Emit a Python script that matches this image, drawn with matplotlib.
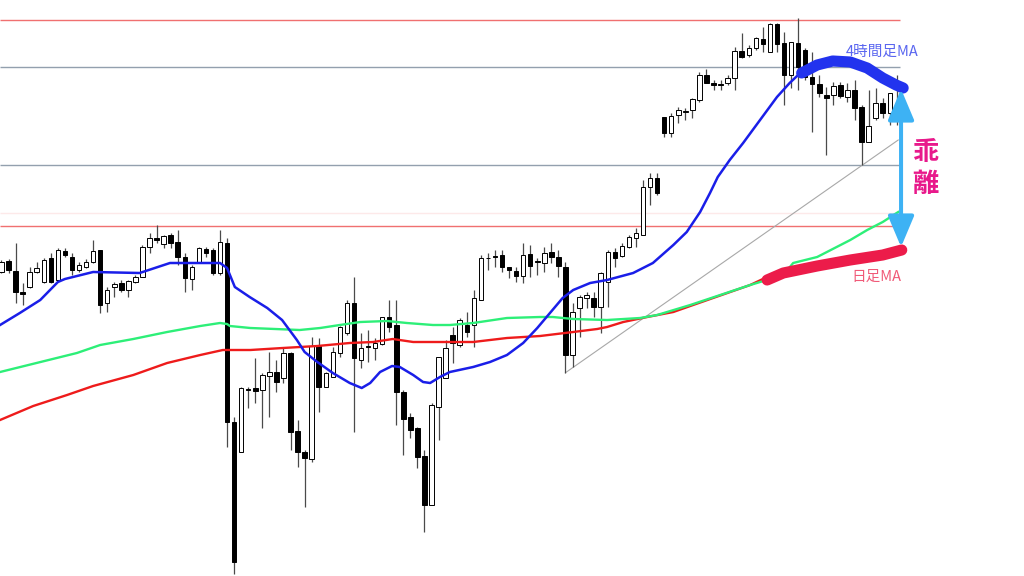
import matplotlib.pyplot as plt
import numpy as np

# 4h candles, price in chart units
opens = [304.3, 315.3, 305.3, 284.3, 289.3, 304, 294.3, 317.7, 296, 325.3,
         319.3, 306, 309.3, 314.3, 326, 272.7, 288.7, 292.7, 286, 294.3,
         299.3, 329.3, 337.7, 332, 341, 334.3, 319.3, 296.7, 312.7, 326.7,
         326, 302.7, 332.7, 154.3, 124.3, 187, 187.7, 186, 200, 204.3,
         197.7, 222.7, 145.3, 123.7, 116.7, 230, 189.3, 199.3, 223.3, 242.7,
         273.3, 216, 229.3, 227.7, 232, 259.3, 251, 184.3, 159.3, 147.7,
         120, 71, 169.3, 197.7, 241, 231, 251, 251, 276, 317.7,
         320, 321, 308.7, 305.3, 300, 322, 314.3, 312.7, 324.3, 319.3,
         309.3, 221, 267.7, 277.7, 277.7, 269.3, 294.3, 324.3, 320, 329.3,
         337.7, 341, 389.3, 397.7, 458.7, 443.3, 461, 464.3, 466, 476,
         501, 493.3, 492, 493.3, 497.7, 525.3, 521, 527.7, 536.7, 524.3,
         552, 532.7, 501, 533.3, 526, 499.3, 492, 481, 481, 491,
         479.3, 486, 469.3, 434.3, 457.7, 472.7, 462.7, 462.7]
highs = [316, 317, 332.7, 293, 309.3, 314.3, 317.7, 322.7, 327.7, 327.7,
         322.7, 314.3, 316.7, 336, 326, 289.3, 294.3, 296, 296, 301,
         331, 343.3, 351, 341, 342.7, 346, 322.7, 311, 329.3, 329.3,
         327.7, 346, 337.7, 159.3, 189.3, 189.3, 217.7, 202.7, 224.3, 216,
         229.3, 224.3, 156, 126, 239.3, 237.7, 204.3, 229.3, 250, 276,
         298.7, 242.7, 246, 237.7, 259.3, 276, 276, 186, 162.7, 149.3,
         126, 173.3, 219.3, 236, 249.3, 257.7, 264.3, 286, 321, 322.7,
         326, 326, 309.3, 309.3, 332.7, 331, 317.7, 329.3, 332.7, 326,
         314.3, 272.7, 281, 284.3, 284.3, 304.3, 326, 327.7, 332.7, 341,
         347.7, 396, 402.7, 402.7, 459.3, 462.7, 469.3, 467.7, 477.7, 504.3,
         506.7, 496, 496, 501, 529.3, 542.7, 531, 539.3, 549.3, 552.7,
         552.7, 544.3, 534.3, 558, 527.7, 524.3, 501, 489.3, 494.3, 494.3,
         492.7, 496, 471, 486, 487.7, 477.7, 482.7, 501]
lows = [303, 303, 272.7, 271, 287.7, 303, 292.7, 292.7, 294.3, 319.3,
        301, 304.3, 307.7, 312.7, 262.7, 264.3, 279.3, 284.3, 279.3, 292.7,
        299.3, 322.7, 332.7, 327.7, 327.7, 311, 284.3, 286, 312.7, 319.3,
        301, 301, 129.3, 2, 124.3, 167.7, 172.7, 147.7, 159.3, 184.3,
        192.7, 126, 109.3, 69.3, 114.3, 164.3, 189.3, 199.3, 219.3, 241,
        144.3, 207.7, 214.3, 216, 231, 244.3, 151, 121, 137.7, 107.7,
        44.3, 71, 136, 197.7, 212.7, 229.3, 239.3, 229.3, 276, 306,
        309.3, 304.3, 297.7, 294.3, 292.7, 299.3, 301, 304.3, 312.7, 299.3,
        203.3, 209.3, 239.3, 267.7, 259.3, 242.7, 269.3, 309.3, 319.3, 327.7,
        329.3, 341, 371, 381, 439.3, 439.3, 452.7, 456, 457.7, 474.3,
        492.7, 486, 486, 491, 486, 517.7, 519.3, 526, 524.3, 524.3,
        524.3, 471, 487.7, 486, 496, 444.3, 479.3, 421, 471, 477.7,
        474.3, 456, 411, 434.3, 456, 457.7, 451, 451]
closes = [314.3, 306, 284.3, 282, 304.3, 308.3, 316, 294.3, 326, 321,
          306, 311, 314.3, 325.3, 271, 286, 292, 286, 295.3, 299.3,
          329.3, 337.7, 336, 340, 332.7, 319.3, 297.7, 309.3, 327.7, 322.7,
          302.7, 334.3, 154.3, 14.3, 187.7, 186.3, 185.3, 201, 204.3, 194.3,
          222.7, 144.3, 124.3, 117.7, 230, 189.3, 202.7, 224.3, 248.7, 272.7,
          217.7, 227.7, 229, 232.7, 258.7, 249.3, 184.3, 156.7, 146, 119.3,
          71, 171, 218.7, 227.7, 232.7, 256, 244.3, 277.7, 317.7, 317.3,
          319, 309.3, 306, 300, 321, 310, 314, 323.3, 319.3, 310,
          221, 264.3, 279.3, 281, 269.3, 302.7, 324.3, 317.7, 330, 338.7,
          342.7, 389.3, 397.7, 382.7, 443.3, 460, 466, 464.7, 476.7, 501,
          493.3, 491, 491.3, 497.7, 525.3, 519.3, 527.7, 537.7, 532, 552,
          532, 501, 533.7, 509.3, 499.3, 492, 482.7, 477.7, 490, 480,
          486, 467.7, 434.3, 450, 472.7, 462.7, 482.7, 456]

# moving averages (bar position, value)
ma4h_x = [-0.2, 2.6, 5.5, 8.0, 9.0, 13.0, 19.6, 23.9, 31.0, 32.0,
          33.1, 35.2, 37.7, 39.8, 41.9, 43.0, 44.8, 47.0, 49.4, 51.1,
          52.3, 53.7, 55.4, 56.5, 58.4, 59.8, 60.8, 62.2, 63.6, 66.9,
          69.3, 71.7, 74.0, 76.0, 77.8, 79.6, 81.1, 83.5, 85.9, 89.6,
          92.4, 95.3, 97.2, 99.1, 100.5, 101.6, 103.3, 105.2, 107.6, 110.0,
          111.8, 113.3, 115.7, 117.9, 120.4, 122.8, 125.0, 127.4]
ma4h_y = [251, 263, 276, 294, 297, 304, 303, 313, 313, 308,
          289, 279, 268, 256, 236, 224, 214, 203, 193, 188,
          193, 204, 210, 209, 201, 194, 193, 199, 204, 209,
          214, 221, 233, 248, 263, 278, 286, 293, 296, 303,
          313, 331, 344, 364, 383, 399, 416, 433, 456, 479,
          493, 503, 511, 515, 514, 508, 498, 488]
mid_x = [-0.2, 10.7, 14.0, 18.7, 23.5, 28.2, 31.0, 32.0, 32.4, 35.3,
         42.3, 45.2, 48.0, 50.9, 54.7, 57.5, 61.2, 63.6, 66.9, 71.7,
         76.4, 78.2, 81.1, 85.9, 90.6, 93.0, 97.7, 106.2, 110.9, 112.3,
         115.7, 120.4, 122.8, 125.0, 127.2]
mid_y = [204, 223, 231, 237, 244, 250, 253, 252, 250, 248,
         246, 248, 251, 254, 255, 253, 251, 251, 253, 258,
         259, 259, 257, 256, 258, 261, 271, 291, 301, 313,
         319, 336, 346, 354, 364]
daily_x = [-0.2, 4.5, 9.3, 13.0, 18.7, 23.5, 28.2, 31.4, 35.3, 39.9,
           44.8, 49.4, 52.7, 55.5, 58.4, 61.2, 63.6, 66.9, 71.7, 76.4,
           81.1, 84.5, 85.9, 88.2, 91.6, 95.3, 97.7, 106.2, 108.0]
daily_y = [156, 170, 181, 190, 201, 213, 221, 226, 226, 228,
           230, 233, 234, 237, 234, 234, 234, 234, 238, 240,
           244, 247, 249, 254, 259, 264, 270, 291, 297]

# hand-drawn marker strokes
mark4h_x = [113.5, 115.7, 117.9, 120.4, 122.8, 125.0, 126.9, 127.9]
mark4h_y = [503, 511, 515, 514, 508, 498, 491, 488]
markd_x = [108.6, 110.9, 115.7, 120.4, 125.0, 127.7]
markd_y = [296, 303, 310, 316, 321, 326]

levels = [556, 509.5, 411, 363, 350]
level_colors = ["#f07070", "#93a0ae", "#93a0ae", "#fde9e9", "#f07070"]
trend_x = [80.0, 127.2]
trend_y = [203.3, 436]

jp = ["Noto Sans CJK JP", "DejaVu Sans"]

o = np.array(opens)
h = np.array(highs)
l = np.array(lows)
c = np.array(closes)
x = np.arange(len(o))
up = c >= o
body = c - o
body = np.where(np.abs(body) < 0.6, 0.6, body)

fig = plt.figure(figsize=(10.24, 5.76), dpi=100)
ax = fig.add_axes([0, 0, 1, 1])
ax.set_xlim(-0.21, 145.04)
ax.set_ylim(0, 576)
ax.axis("off")

for lv, col in zip(levels, level_colors):
    ax.hlines(lv, -0.21, 127.4, color=col, lw=1, zorder=1)
ax.plot(trend_x, trend_y, color="#a8a8a8", lw=0.8, zorder=1)

ax.vlines(x, l, h, color="#4a4a4a", lw=0.9, zorder=2)
ax.bar(x[up], body[up], bottom=o[up], width=0.64, color="white",
       edgecolor="black", lw=0.7, zorder=3)
ax.bar(x[~up], body[~up], bottom=o[~up], width=0.64, color="black",
       edgecolor="black", lw=0.7, zorder=3)

ax.plot(daily_x, daily_y, color="#ee1b1b", lw=1.7, zorder=4)
ax.plot(mid_x, mid_y, color="#2def78", lw=1.7, zorder=4)
ax.plot(ma4h_x, ma4h_y, color="#1a1ee8", lw=1.8, zorder=4)

ax.plot(mark4h_x, mark4h_y, color="#2233ee", lw=8, solid_capstyle="round", zorder=5)
ax.plot(markd_x, markd_y, color="#ec1c4a", lw=8, solid_capstyle="round", zorder=5)

ax.annotate("", xy=(127.6, 329), xytext=(127.6, 487),
            arrowprops=dict(arrowstyle="<|-|>,head_length=1.9,head_width=0.8",
                            color="#3db2f4", lw=2.9, mutation_scale=10,
                            shrinkA=0, shrinkB=0), zorder=6)

ax.text(131.0, 407.5, "乖\n離", family=jp, fontsize=19, fontweight="bold",
        color="#e8198b", ha="center", va="center", linespacing=1.2)
ax.text(119.8, 524, "4時間足MA", family=jp, fontsize=10.5, color="#5a66f0",
        ha="left", va="center")
ax.text(120.6, 299, "日足MA", family=jp, fontsize=10.5, color="#f05a78",
        ha="left", va="center")

fig.savefig("out.png", dpi=100)
